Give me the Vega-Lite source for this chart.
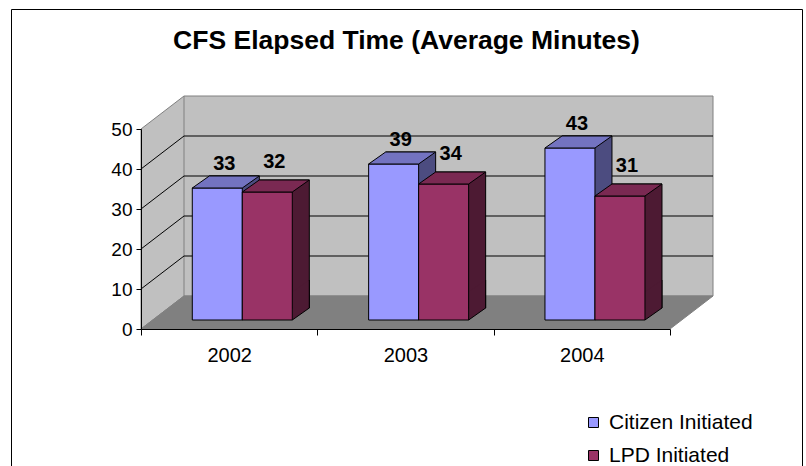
{
  "$schema": "https://vega.github.io/schema/vega-lite/v6.json",
  "width": 791,
  "height": 457,
  "autosize": {"type": "none"},
  "padding": {"left": 11, "top": 9, "right": 4, "bottom": 0},
  "background": "white",
  "config": {"view": {"stroke": "#000000", "strokeWidth": 1, "fill": "white"}, "font": "Liberation Sans"},
  "title": {"text": "CFS Elapsed Time (Average Minutes)", "fontSize": 26.5, "fontWeight": "bold", "font": "Liberation Sans", "color": "black", "anchor": "middle", "frame": "group", "baseline": "alphabetic", "offset": 0, "dy": 66},
  "datasets": {
    "cfs": [
      {"year": "2002", "series": "Citizen Initiated", "minutes": 33},
      {"year": "2002", "series": "LPD Initiated", "minutes": 32},
      {"year": "2003", "series": "Citizen Initiated", "minutes": 39},
      {"year": "2003", "series": "LPD Initiated", "minutes": 34},
      {"year": "2004", "series": "Citizen Initiated", "minutes": 43},
      {"year": "2004", "series": "LPD Initiated", "minutes": 31}
    ],
    "grid": [{"tick": 10}, {"tick": 20}, {"tick": 30}, {"tick": 40}],
    "one": [{"part": "wall"}]
  },
  "resolve": {"scale": {"xOffset": "independent"}},
  "layer": [
    {
      "data": {"name": "one"},
      "mark": {"type": "point", "shape": "M0,0L0,-200L43,-233L572,-233L572,-33L43,-33ZM43,-33L43,-233", "size": 4, "filled": true, "fill": "#C0C0C0", "stroke": "#808080", "strokeWidth": 1, "opacity": 1},
      "encoding": {
        "x": {"datum": "2002", "type": "nominal", "bandPosition": 0, "title": null, "scale": {"type": "band", "domain": ["2002", "2003", "2004"], "range": [130, 659], "paddingInner": 0, "paddingOuter": 0}},
        "y": {"datum": 0, "type": "quantitative", "title": null, "scale": {"domain": [0, 50], "range": [320, 120], "nice": false}}
      }
    },
    {
      "data": {"name": "grid"},
      "mark": {"type": "point", "shape": "M0,0L43,-33L572,-33", "size": 4, "filled": false, "stroke": "black", "strokeWidth": 1, "opacity": 1},
      "encoding": {
        "x": {"datum": "2002", "type": "nominal", "bandPosition": 0, "title": null},
        "y": {"field": "tick", "type": "quantitative", "title": null}
      }
    },
    {
      "data": {"name": "one"},
      "mark": {"type": "point", "shape": "M0,0L43,-33L572,-33L529,0Z", "size": 4, "filled": true, "fill": "#808080", "stroke": "#808080", "strokeWidth": 1, "opacity": 1},
      "encoding": {
        "x": {"datum": "2002", "type": "nominal", "bandPosition": 0, "title": null},
        "y": {"datum": 0, "type": "quantitative", "title": null}
      }
    },
    {
      "data": {"name": "cfs"},
      "mark": {"type": "bar", "stroke": "black", "strokeWidth": 1, "yOffset": -21, "y2Offset": -21},
      "encoding": {
        "x": {"field": "year", "type": "nominal", "title": null},
        "xOffset": {"field": "series", "type": "nominal", "scale": {"type": "band", "domain": ["Citizen Initiated", "LPD Initiated"], "paddingInner": 0, "paddingOuter": 0.7633, "align": 0.895}},
        "y": {"field": "minutes", "type": "quantitative", "title": null},
        "fill": {"condition": {"test": "datum.series === 'Citizen Initiated'", "value": "#4C4C80"}, "value": "#4D1A33"}
      }
    },
    {
      "data": {"name": "cfs"},
      "mark": {"type": "point", "shape": "M25,0L42,-12L42,-40L25,-28Z", "size": 4, "filled": true, "strokeWidth": 0, "opacity": 1, "yOffset": -9},
      "encoding": {
        "x": {"field": "year", "type": "nominal", "title": null},
        "xOffset": {"field": "series", "type": "nominal", "scale": {"type": "band", "domain": ["Citizen Initiated", "LPD Initiated"], "paddingInner": 0, "paddingOuter": 0.7633, "align": 0.672}},
        "y": {"datum": 0, "type": "quantitative", "title": null},
        "fill": {"condition": {"test": "datum.series === 'Citizen Initiated'", "value": "#4C4C80"}, "value": "#4D1A33"}
      }
    },
    {
      "data": {"name": "cfs"},
      "mark": {"type": "point", "shape": "M25,0L42,-12L42,-40", "size": 4, "filled": false, "stroke": "black", "strokeWidth": 1, "opacity": 1, "yOffset": -9},
      "encoding": {
        "x": {"field": "year", "type": "nominal", "title": null},
        "xOffset": {"field": "series", "type": "nominal", "scale": {"type": "band", "domain": ["Citizen Initiated", "LPD Initiated"], "paddingInner": 0, "paddingOuter": 0.7633, "align": 0.672}},
        "y": {"datum": 0, "type": "quantitative", "title": null}
      }
    },
    {
      "data": {"name": "cfs"},
      "mark": {"type": "bar", "stroke": "black", "strokeWidth": 1, "yOffset": -9, "y2Offset": -9},
      "encoding": {
        "x": {"field": "year", "type": "nominal", "title": null, "axis": {"title": null, "tickBand": "extent", "tickSize": 6, "labelPadding": 20, "labelFontSize": 20, "labelFont": "Liberation Sans", "labelColor": "black", "labelAngle": 0, "labelAlign": "center", "domainColor": "black", "tickColor": "black", "offset": -137, "grid": false, "zindex": 1}},
        "xOffset": {"field": "series", "type": "nominal", "scale": {"type": "band", "domain": ["Citizen Initiated", "LPD Initiated"], "paddingInner": 0, "paddingOuter": 0.7633, "align": 0.672}},
        "y": {"field": "minutes", "type": "quantitative", "title": null, "axis": {"title": null, "values": [0, 10, 20, 30, 40, 50], "tickSize": 5, "labelPadding": 4, "labelFontSize": 19, "labelFont": "Liberation Sans", "labelColor": "black", "domainColor": "black", "tickColor": "black", "offset": -130, "grid": false, "zindex": 1}},
        "fill": {"field": "series", "type": "nominal", "scale": {"domain": ["Citizen Initiated", "LPD Initiated"], "range": ["#9999FF", "#993366"]}, "legend": {"title": null, "orient": "none", "legendX": 572, "legendY": 403, "symbolType": "square", "symbolSize": 100, "symbolStrokeColor": "black", "symbolStrokeWidth": 1, "labelFont": "Liberation Sans", "labelFontSize": 21, "labelColor": "black", "labelOffset": 5, "rowPadding": 11, "padding": 0}}
      }
    },
    {
      "data": {"name": "cfs"},
      "mark": {"type": "point", "shape": "M-25,0L-8,-12L42,-12L25,0Z", "size": 4, "filled": true, "stroke": "black", "strokeWidth": 1, "opacity": 1, "yOffset": -9},
      "encoding": {
        "x": {"field": "year", "type": "nominal", "title": null},
        "xOffset": {"field": "series", "type": "nominal", "scale": {"type": "band", "domain": ["Citizen Initiated", "LPD Initiated"], "paddingInner": 0, "paddingOuter": 0.7633, "align": 0.672}},
        "y": {"field": "minutes", "type": "quantitative", "title": null},
        "fill": {"condition": {"test": "datum.series === 'Citizen Initiated'", "value": "#7373C0"}, "value": "#7A2952"}
      }
    },
    {
      "data": {"name": "cfs"},
      "transform": [{"filter": "datum.series === 'Citizen Initiated'"}],
      "mark": {"type": "text", "fontSize": 20, "fontWeight": "bold", "font": "Liberation Sans", "color": "black", "baseline": "middle", "align": "center", "dx": 7, "dy": -33},
      "encoding": {
        "x": {"field": "year", "type": "nominal", "title": null},
        "xOffset": {"field": "series", "type": "nominal", "scale": {"type": "band", "domain": ["Citizen Initiated", "LPD Initiated"], "paddingInner": 0, "paddingOuter": 0.7633, "align": 0.672}},
        "y": {"field": "minutes", "type": "quantitative", "title": null},
        "text": {"field": "minutes", "type": "quantitative"}
      }
    },
    {
      "data": {"name": "cfs"},
      "transform": [{"filter": "datum.series === 'LPD Initiated'"}],
      "mark": {"type": "text", "fontSize": 20, "fontWeight": "bold", "font": "Liberation Sans", "color": "black", "baseline": "middle", "align": "center", "dx": 7, "dy": -39},
      "encoding": {
        "x": {"field": "year", "type": "nominal", "title": null},
        "xOffset": {"field": "series", "type": "nominal", "scale": {"type": "band", "domain": ["Citizen Initiated", "LPD Initiated"], "paddingInner": 0, "paddingOuter": 0.7633, "align": 0.672}},
        "y": {"field": "minutes", "type": "quantitative", "title": null},
        "text": {"field": "minutes", "type": "quantitative"}
      }
    }
  ]
}
